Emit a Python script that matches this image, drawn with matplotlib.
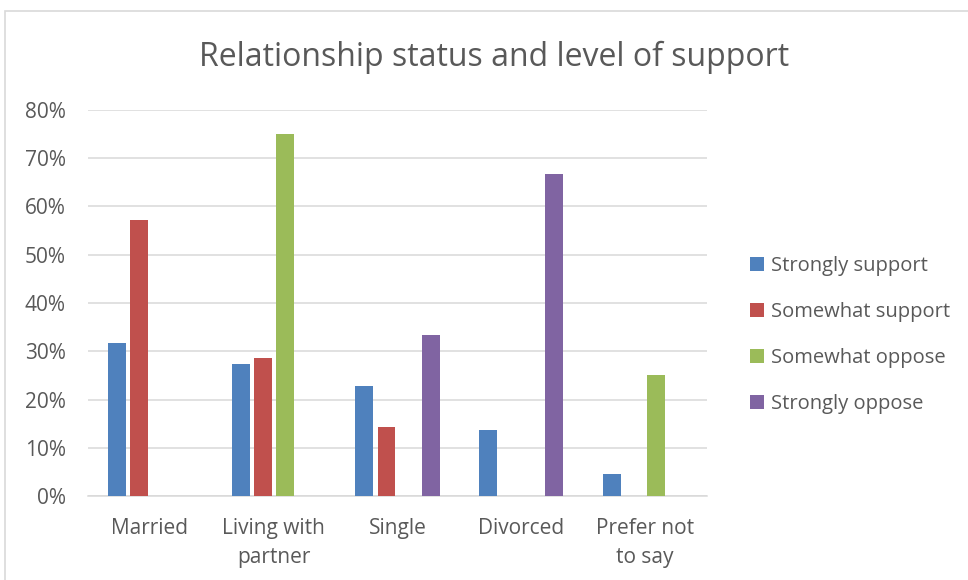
import matplotlib.pyplot as plt
import numpy as np
from matplotlib.patches import Rectangle
from matplotlib.ticker import PercentFormatter

# data
categories = ["Married", "Living with\npartner", "Single", "Divorced", "Prefer not\nto say"]
series_names = ["Strongly support", "Somewhat support", "Somewhat oppose", "Strongly oppose"]
strongly_support = [0.318, 0.273, 0.227, 0.136, 0.045]
somewhat_support = [0.571, 0.286, 0.143, 0.0, 0.0]
somewhat_oppose = [0.0, 0.75, 0.0, 0.0, 0.25]
strongly_oppose = [0.0, 0.0, 0.333, 0.667, 0.0]
colors = ["#4F81BD", "#C0504D", "#9BBB59", "#8064A2"]

plt.rcParams['font.family'] = ['Open Sans', 'DejaVu Sans']
txt = "#595959"

fig = plt.figure(figsize=(9.68, 5.8), dpi=100)
# chart frame
fig.patches.append(Rectangle((5/968, -0.1), 1.2, 1 - 11/580 + 0.1, transform=fig.transFigure,
                             fill=False, edgecolor="#D9D9D9", linewidth=1.2))

ax = fig.add_axes([88/968, 1 - 496/580, (707 - 88)/968, (496 - 110)/580])

x = np.arange(len(categories))
w = 0.145
step = 0.178
all_series = [strongly_support, somewhat_support, somewhat_oppose, strongly_oppose]
for i, (vals, name, c) in enumerate(zip(all_series, series_names, colors)):
    ax.bar(x + (i - 1.5) * step, vals, width=w, color=c, label=name, zorder=3)

ax.set_xlim(-0.5, len(categories) - 0.5)
ax.set_ylim(0, 0.8)
ax.set_yticks(np.arange(0, 0.81, 0.1))
ax.yaxis.set_major_formatter(PercentFormatter(1.0, decimals=0))
ax.set_xticks(x)
ax.set_xticklabels(categories, linespacing=1.5)
ax.grid(axis="y", color="#D9D9D9", linewidth=1.1, zorder=0)
for s in ["top", "right", "left"]:
    ax.spines[s].set_visible(False)
ax.spines["bottom"].set_color("#D9D9D9")
ax.spines["bottom"].set_linewidth(1.1)
ax.tick_params(axis="both", length=0, labelsize=15, labelcolor=txt)
ax.tick_params(axis="x", pad=16)
ax.tick_params(axis="y", pad=16)
for lbl in ax.get_xticklabels():
    lbl.set_verticalalignment("top")

fig.text(494/968, 1 - 57/580, "Relationship status and level of support", ha="center", va="center",
         fontsize=23, color=txt)

leg = fig.legend(loc="center left", bbox_to_anchor=(732/968, 1 - 335/580), frameon=False,
                 fontsize=14.5, labelcolor=txt, handlelength=0.7, handleheight=0.7,
                 handletextpad=0.35, labelspacing=1.3)

fig.savefig("out.png", dpi=100)
